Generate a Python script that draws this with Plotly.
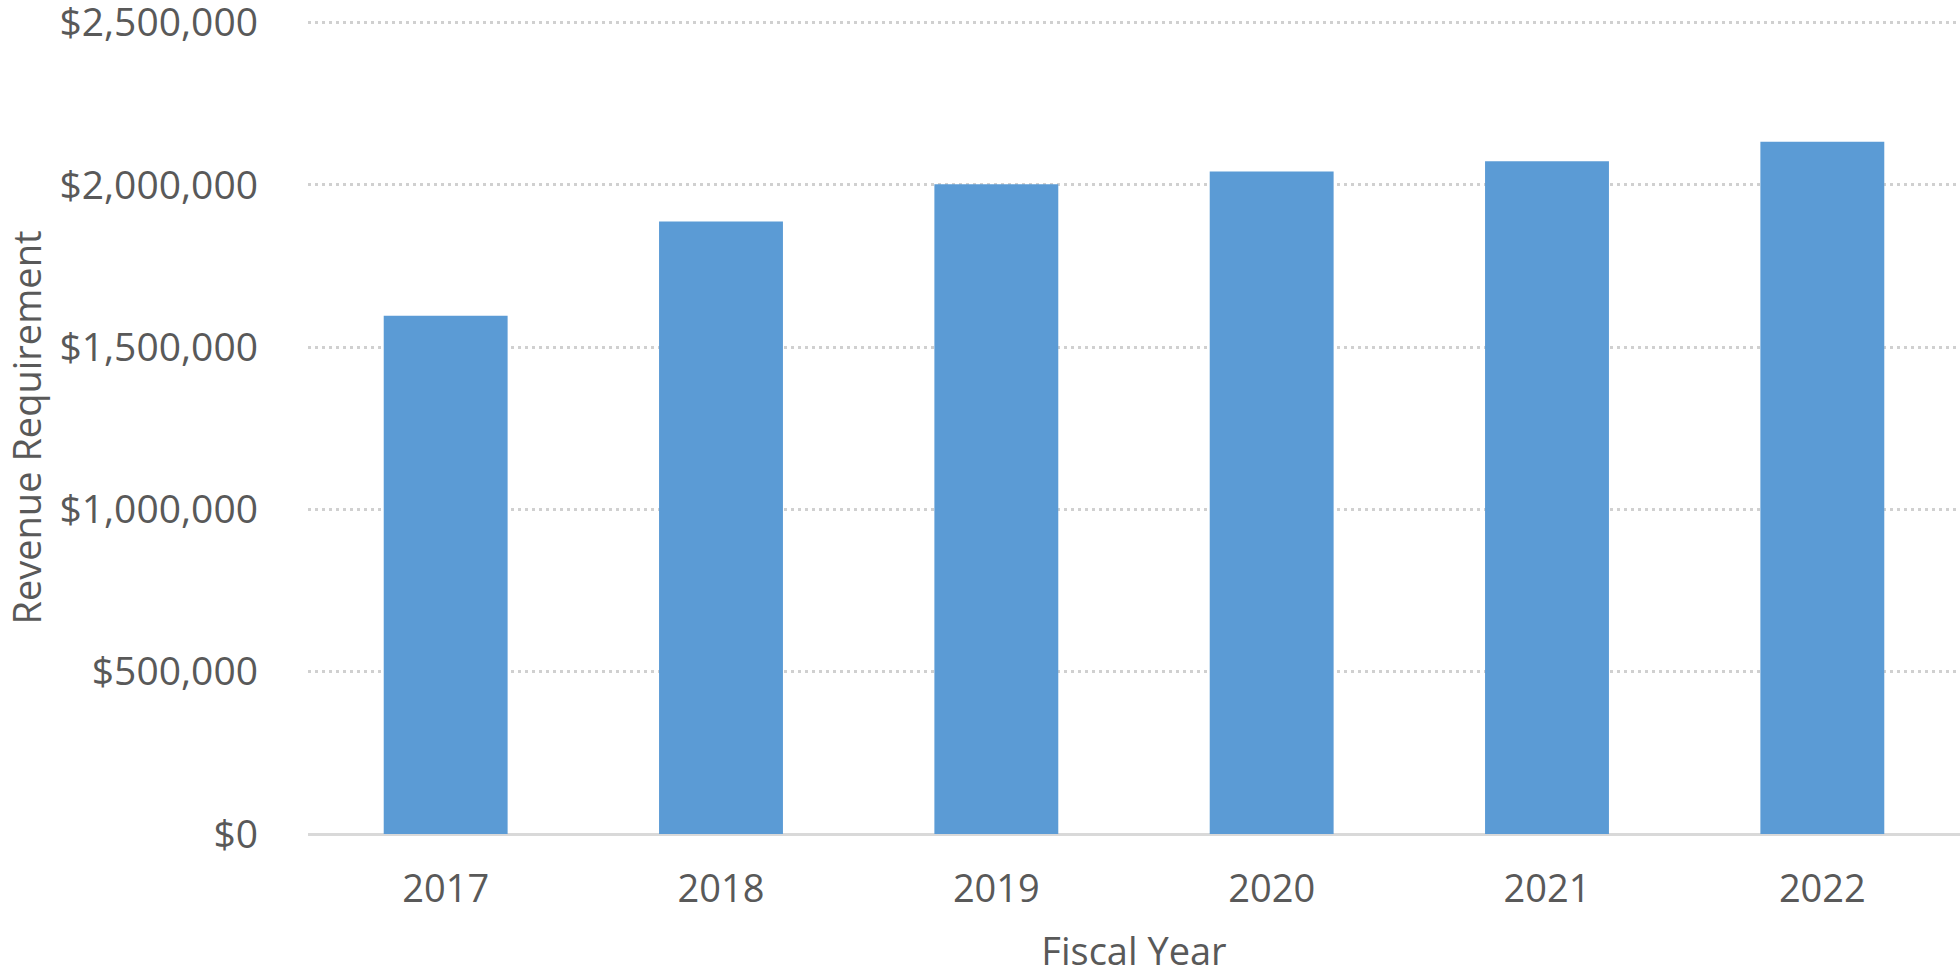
import plotly.graph_objects as go

years = ["2017", "2018", "2019", "2020", "2021", "2022"]
revenue = [1597000, 1887000, 2002000, 2041000, 2073000, 2133000]
y_ticks = [0, 500000, 1000000, 1500000, 2000000, 2500000]

FONT = "Open Sans"
TXT = "#595959"

fig = go.Figure(
    go.Bar(
        x=years,
        y=revenue,
        marker=dict(color="#5B9BD5", line=dict(width=0)),
        width=0.45,
    )
)

fig.update_layout(
    width=1960,
    height=976,
    margin=dict(l=308, r=0, t=21, b=142, autoexpand=False),
    paper_bgcolor="white",
    plot_bgcolor="white",
    showlegend=False,
    font=dict(family=FONT, color=TXT, size=38),
)

fig.update_xaxes(
    type="category",
    showgrid=False,
    showline=False,
    ticks="",
    tickfont=dict(family=FONT, size=38, color=TXT),
    ticklabelstandoff=29,
    title=dict(text="Fiscal Year", font=dict(family=FONT, size=38, color=TXT), standoff=34),
)

fig.update_yaxes(
    range=[0, 2505000],
    tickvals=y_ticks,
    tickformat="$,.0f",
    showgrid=True,
    gridcolor="#D0D0D0",
    gridwidth=2.5,
    griddash="3px,4px",
    zeroline=True,
    zerolinecolor="#D9D9D9",
    zerolinewidth=3,
    showline=False,
    ticks="",
    ticklabeloverflow="allow",
    tickfont=dict(family=FONT, size=39, color=TXT),
    ticklabelstandoff=49,
    title=dict(text="Revenue Requirement", font=dict(family=FONT, size=38, color=TXT), standoff=47),
)

fig.write_html(
    "out.html",
    config={"displayModeBar": False},
    post_script="document.body.style.margin='0';document.body.style.overflow='hidden';",
)
